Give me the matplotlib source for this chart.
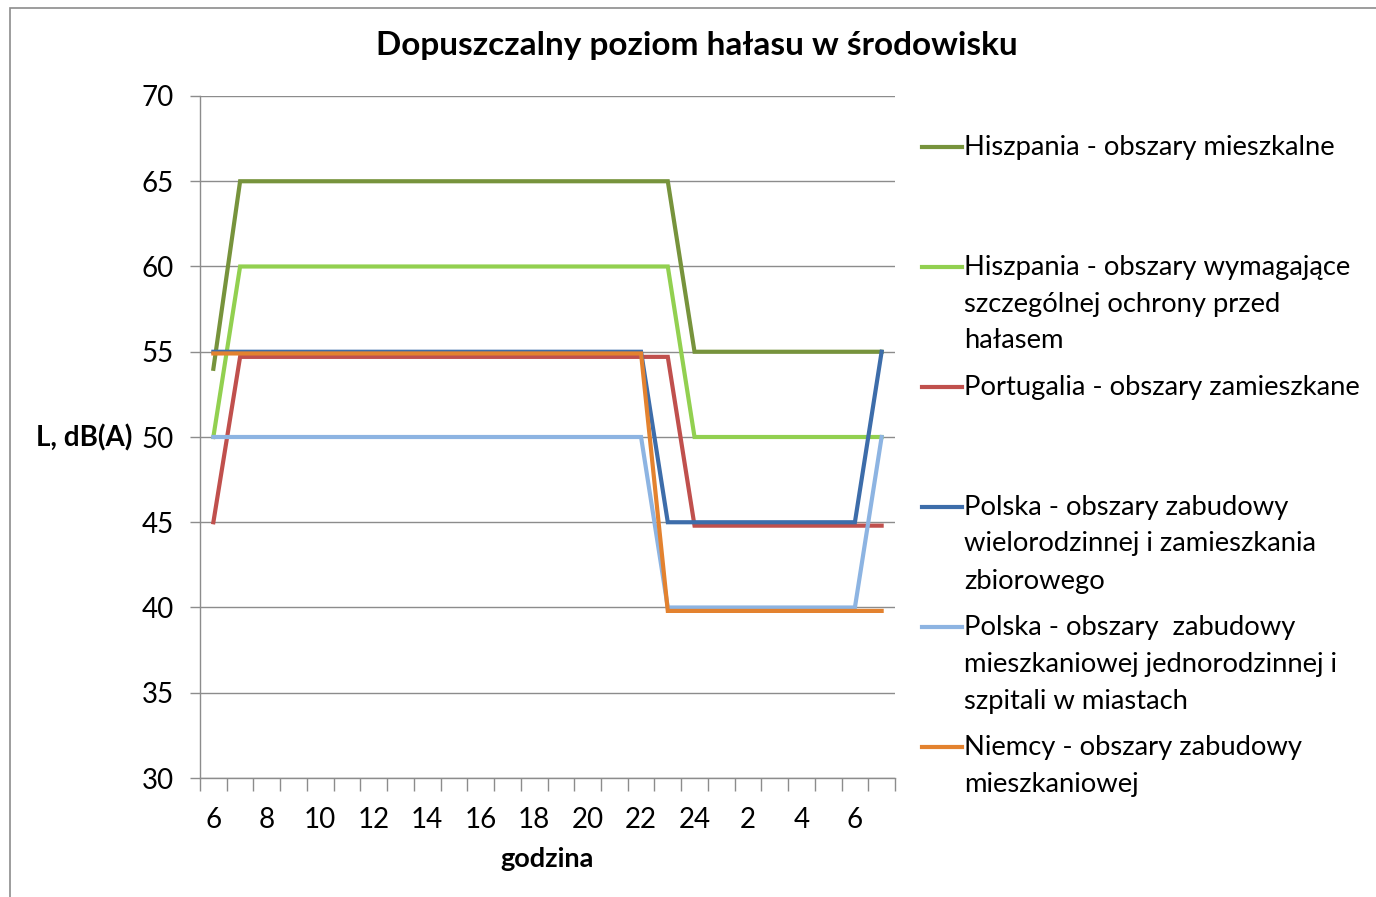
import matplotlib.pyplot as plt
from matplotlib.lines import Line2D
from matplotlib.patches import Rectangle

plt.rcParams['font.family'] = ['Lato', 'DejaVu Sans']

# hours on the x axis: 6..24 then 1..7 next day
hours = [str(h) for h in range(6, 25)] + [str(h) for h in range(1, 8)]

hiszp_mieszk = [54] + [65] * 17 + [55] * 8
hiszp_ochr = [50] + [60] * 17 + [50] * 8
portugalia = [45] + [54.7] * 17 + [44.8] * 8
polska_wielo = [55] * 17 + [45] * 8 + [55]
polska_jedno = [50] * 17 + [40] * 8 + [50]
niemcy = [54.9] * 17 + [39.8] * 9

series = [hiszp_mieszk, hiszp_ochr, portugalia, polska_wielo, polska_jedno, niemcy]
labels = [
    'Hiszpania - obszary mieszkalne',
    'Hiszpania - obszary wymagające\nszczególnej ochrony przed\nhałasem',
    'Portugalia - obszary zamieszkane',
    'Polska - obszary zabudowy\nwielorodzinnej i zamieszkania\nzbiorowego',
    'Polska - obszary  zabudowy\nmieszkaniowej jednorodzinnej i\nszpitali w miastach',
    'Niemcy - obszary zabudowy\nmieszkaniowej',
]
colors = ['#77933C', '#92D050', '#C0504D', '#3D6DAA', '#8DB4E2', '#E3822F']

W, H = 1376, 897
fig = plt.figure(figsize=(W / 100, H / 100), dpi=100)
fig.patch.set_facecolor('white')

# chart area border
fig.add_artist(Rectangle((10 / W, -0.1), 1.2, 1 - 8 / H + 0.1, transform=fig.transFigure,
                         fill=False, edgecolor='#8C8C8C', linewidth=1.2))

ax = fig.add_axes([200 / W, 1 - 778 / H, 695 / W, (778 - 96) / H])
x = list(range(len(hours)))
for vals, c in zip(series, colors):
    ax.plot(x, vals, color=c, linewidth=3.0, solid_joinstyle='miter', zorder=3)

ax.set_xlim(-0.5, len(hours) - 0.5)
ax.set_ylim(30, 70)
ax.set_yticks(range(30, 71, 5))
ax.yaxis.grid(True, color='#8C8C8C', linewidth=1.0)
ax.set_axisbelow(True)

ax.set_xticks([i + 0.5 for i in range(-1, len(hours))], minor=False)
ax.set_xticklabels([])
ax.set_xticks(x[::2], minor=True)
ax.set_xticklabels(hours[::2], minor=True)
ax.tick_params(axis='x', which='major', length=9, color='#8C8C8C', width=1)
ax.tick_params(axis='x', which='minor', length=0, pad=21, labelsize=20)
ax.tick_params(axis='y', length=7, color='#8C8C8C', width=1, labelsize=20, pad=12)

for s in ['top', 'right']:
    ax.spines[s].set_visible(False)
for s in ['left', 'bottom']:
    ax.spines[s].set_color('#8C8C8C')
    ax.spines[s].set_linewidth(1.0)

ax.set_xlabel('godzina', fontsize=19.5, fontweight='bold', labelpad=10)
fig.text(84 / W, 1 - 438 / H, 'L, dB(A)', fontsize=20, fontweight='bold', ha='center', va='center')
fig.text(697 / W, 1 - 45 / H, 'Dopuszczalny poziom hałasu w środowisku', fontsize=24,
         fontweight='bold', ha='center', va='center')

# legend drawn like the Excel one
for i, (lab, c) in enumerate(zip(labels, colors)):
    y0 = 147 + i * 120
    fig.add_artist(Line2D([922 / W, 962 / W], [1 - y0 / H] * 2, transform=fig.transFigure,
                          color=c, linewidth=3.0))
    for j, line in enumerate(lab.split('\n')):
        fig.text(964 / W, 1 - (y0 + j * 37) / H, line, fontsize=19.7, ha='left', va='center')

fig.savefig('out.png', dpi=100)
